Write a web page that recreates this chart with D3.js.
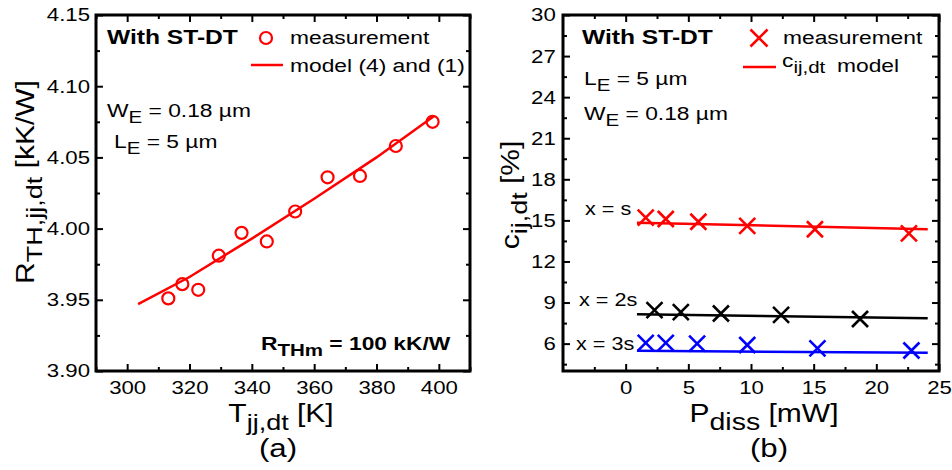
<!DOCTYPE html>
<html>
<head>
<meta charset="utf-8">
<script src="https://cdn.jsdelivr.net/npm/d3@7"></script>
<style>
  body { margin: 0; background: #fff; }
  svg text { font-family: "Liberation Sans", Arial, sans-serif; fill: #000; }
</style>
</head>
<body>
<svg id="chart" width="952" height="470"></svg>
<script>
// ---- data (a): R_TH,jj,dt vs T_jj,dt ----
const measT = [313.2, 317.7, 322.8, 329.4, 336.7, 344.8, 353.9, 364.3, 374.7, 386.2, 398.0];
const measR = [3.951, 3.961, 3.957, 3.981, 3.997, 3.991, 4.012, 4.036, 4.037, 4.058, 4.075];
const modelT = [303.5, 320, 340, 360, 380, 398.5];
const modelR = [3.947, 3.966, 3.993, 4.021, 4.050, 4.079];
const ticksTa = [300, 320, 340, 360, 380, 400];
const minorTa = [290, 310, 330, 350, 370, 390, 410];
const ticksRa = [3.90, 3.95, 4.00, 4.05, 4.10, 4.15];
const minorRa = [3.925, 3.975, 4.025, 4.075, 4.125];

// ---- data (b): c_ij,dt vs P_diss ----
const pS = [1.6, 3.2, 5.8, 9.7, 15.1, 22.6];
const cS = [15.2, 15.1, 14.9, 14.6, 14.35, 14.05];
const p2S = [2.3, 4.4, 7.6, 12.4, 18.7];
const c2S = [8.45, 8.3, 8.2, 8.1, 7.8];
const p3S = [1.6, 3.2, 5.7, 9.7, 15.3, 22.8];
const c3S = [6.05, 6.05, 6.0, 5.9, 5.65, 5.5];
const modelP = [0.9, 24.1];
const modelS = [14.83, 14.35];
const model2S = [8.14, 7.85];
const model3S = [5.47, 5.34];
const ticksP = [0, 5, 10, 15, 20, 25];
const minorP = [-2.5, 2.5, 7.5, 12.5, 17.5, 22.5];
const ticksC = [6, 9, 12, 15, 18, 21, 24, 27, 30];
const minorC = [4.5, 7.5, 10.5, 13.5, 16.5, 19.5, 22.5, 25.5, 28.5];

const SX = 1.2;   // the original lettering is a bit wide
const svg = d3.select("#chart");

// text with subscript pieces: parts = [[str, isSub], ...]
function richText(g, x, y, parts, size, opts) {
  opts = opts || {};
  const holder = g.append("g")
      .attr("transform", `translate(${x},${y})` + (opts.rotate ? " rotate(-90)" : "") + ` scale(${SX},1)`);
  const t = holder.append("text")
      .attr("font-size", size)
      .attr("font-weight", opts.bold ? "bold" : null)
      .attr("text-anchor", opts.anchor || "start");
  let prevSub = false;
  parts.forEach(([s, sub]) => {
    let shift = 0;
    if (sub && !prevSub) shift = size * 0.3;
    if (!sub && prevSub) shift = -size * 0.3;
    t.append("tspan")
      .attr("dy", shift)
      .attr("font-size", sub ? size * (opts.subScale || 0.9) : size)
      .text(s);
    prevSub = sub;
  });
  return t;
}

function frame(g, x, y, xTicks, xMinor, yTicks, yMinor, xFmt, yFmt, yPad) {
  const w = x.range()[1] - x.range()[0];
  const h = y.range()[0] - y.range()[1];
  const mk = (axis, tr) => g.append("g").attr("transform", tr).call(axis)
      .call(a => a.select(".domain").remove())
      .call(a => a.selectAll("line").attr("stroke", "#000").attr("stroke-width", 2));
  const styleText = sel => sel.selectAll("text")
      .attr("font-size", 18.5)
      .attr("font-family", "Liberation Sans, Arial, sans-serif")
      .attr("transform", `scale(${SX},1)`);
  // bottom
  mk(d3.axisBottom(x).tickValues(xTicks).tickSize(-7).tickPadding(10).tickFormat(xFmt), `translate(0,${h})`)
    .call(styleText);
  mk(d3.axisBottom(x).tickValues(xMinor).tickSize(-4).tickFormat(""), `translate(0,${h})`);
  mk(d3.axisTop(x).tickValues(xTicks).tickSize(-7).tickFormat(""), "translate(0,0)");
  mk(d3.axisTop(x).tickValues(xMinor).tickSize(-4).tickFormat(""), "translate(0,0)");
  mk(d3.axisLeft(y).tickValues(yTicks).tickSize(-7).tickPadding(yPad).tickFormat(yFmt), "translate(0,0)")
    .call(styleText);
  mk(d3.axisLeft(y).tickValues(yMinor).tickSize(-4).tickFormat(""), "translate(0,0)");
  mk(d3.axisRight(y).tickValues(yTicks).tickSize(-7).tickFormat(""), `translate(${w},0)`);
  mk(d3.axisRight(y).tickValues(yMinor).tickSize(-4).tickFormat(""), `translate(${w},0)`);
  g.append("rect").attr("width", w).attr("height", h)
    .attr("fill", "none").attr("stroke", "#000").attr("stroke-width", 3);
}

// ================= panel (a) =================
const ga = svg.append("g").attr("transform", "translate(96,15)");
const xa = d3.scaleLinear().domain([290, 410]).range([0, 374]);
const ya = d3.scaleLinear().domain([3.90, 4.15]).range([356, 0]);

ga.append("path")
  .datum(modelT.map((t, i) => [t, modelR[i]]))
  .attr("d", d3.line().x(d => xa(d[0])).y(d => ya(d[1])))
  .attr("fill", "none").attr("stroke", "#ff0000").attr("stroke-width", 2.5);

ga.selectAll("circle.m")
  .data(measT.map((t, i) => ({t: t, r: measR[i]})))
  .enter().append("circle")
  .attr("class", "m")
  .attr("cx", d => xa(d.t)).attr("cy", d => ya(d.r)).attr("r", 6)
  .attr("fill", "none").attr("stroke", "#ff0000").attr("stroke-width", 2.2);

frame(ga, xa, ya, ticksTa, minorTa, ticksRa, minorRa, d3.format("d"), d3.format(".2f"), 5);

// legend / annotations (a)
richText(ga, 11, 29, [["With ST-DT", false]], 20.5, {bold: true});
ga.append("circle").attr("cx", 170).attr("cy", 23).attr("r", 6)
  .attr("fill", "none").attr("stroke", "#ff0000").attr("stroke-width", 2.2);
richText(ga, 194, 29, [["measurement", false]], 19);
ga.append("line").attr("x1", 155).attr("x2", 187).attr("y1", 50).attr("y2", 50)
  .attr("stroke", "#ff0000").attr("stroke-width", 2.5);
richText(ga, 194, 57, [["model (4) and (1)", false]], 19);
richText(ga, 11, 102, [["W", false], ["E", true], [" = 0.18 \u00b5m", false]], 19);
richText(ga, 18, 133, [["L", false], ["E", true], [" = 5 \u00b5m", false]], 19);
richText(ga, 165, 335, [["R", false], ["THm", true], [" = 100 kK/W", false]], 19, {bold: true});

// axis titles (a)
richText(svg, 34, 182, [["R", false], ["TH,jj,dt", true], [" [kK/W]", false]], 25, {rotate: true, anchor: "middle"});
richText(svg, 281, 422, [["T", false], ["jj,dt", true], [" [K]", false]], 25, {anchor: "middle"});
richText(svg, 278, 457, [["(a)", false]], 26, {anchor: "middle"});

// ================= panel (b) =================
const gb = svg.append("g").attr("transform", "translate(563,15)");
const xb = d3.scaleLinear().domain([-5, 25]).range([0, 376]);
const yb = d3.scaleLinear().domain([4, 30]).range([356, 0]);

const series = [
  {p: pS, c: cS, mp: modelP, mc: modelS, color: "#ff0000"},
  {p: p2S, c: c2S, mp: modelP, mc: model2S, color: "#000000"},
  {p: p3S, c: c3S, mp: modelP, mc: model3S, color: "#0000ff"}
];

function cross(g, cx, cy, s, color) {
  g.append("path")
    .attr("d", `M${cx - s},${cy - s}L${cx + s},${cy + s}M${cx - s},${cy + s}L${cx + s},${cy - s}`)
    .attr("stroke", color).attr("stroke-width", 2.6).attr("fill", "none");
}

series.forEach(s => {
  gb.append("path")
    .datum(s.mp.map((p, i) => [p, s.mc[i]]))
    .attr("d", d3.line().x(d => xb(d[0])).y(d => yb(d[1])))
    .attr("fill", "none").attr("stroke", s.color).attr("stroke-width", 2.5);
  s.p.forEach((p, i) => cross(gb, xb(p), yb(s.c[i]), 8, s.color));
});

frame(gb, xb, yb, ticksP, minorP, ticksC, minorC, d3.format("d"), d3.format("d"), 6);

// legend / annotations (b)
richText(gb, 19, 29, [["With ST-DT", false]], 20.5, {bold: true});
cross(gb, 196, 23, 8.5, "#ff0000");
richText(gb, 220, 29, [["measurement", false]], 19);
gb.append("line").attr("x1", 180).attr("x2", 213).attr("y1", 52).attr("y2", 52)
  .attr("stroke", "#ff0000").attr("stroke-width", 2.5);
richText(gb, 219, 52, [["c", false], ["ij,dt", true]], 19);
richText(gb, 274, 57, [["model", false]], 19);
richText(gb, 21, 70, [["L", false], ["E", true], [" = 5 \u00b5m", false]], 19);
richText(gb, 21, 105, [["W", false], ["E", true], [" = 0.18 \u00b5m", false]], 19);
richText(gb, 22, 200, [["x = s", false]], 18);
richText(gb, 16, 291, [["x = 2s", false]], 18);
richText(gb, 13, 335, [["x = 3s", false]], 18);

// axis titles (b)
richText(svg, 519, 195, [["c", false], ["ij,dt", true], [" [%]", false]], 25, {rotate: true, anchor: "middle"});
richText(svg, 764, 422, [["P", false], ["diss", true], [" [mW]", false]], 25, {anchor: "middle", subScale: 0.95});
richText(svg, 769, 457, [["(b)", false]], 26, {anchor: "middle"});
</script>
</body>
</html>
